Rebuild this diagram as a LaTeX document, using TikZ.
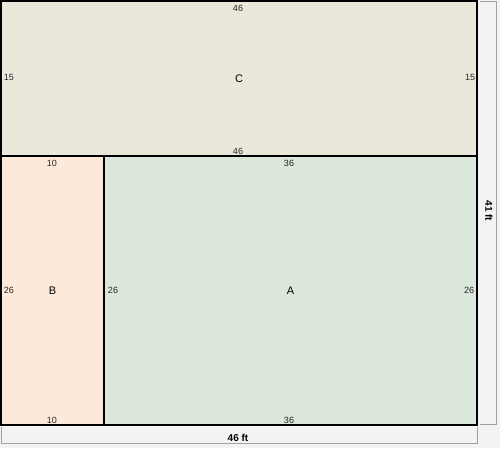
\documentclass[tikz,border=0pt]{standalone}
\usepackage{fontspec}
\setmainfont{Liberation Sans}
\definecolor{bgGray}{HTML}{F3F3F3}
\definecolor{fillC}{HTML}{E9E8DA}
\definecolor{fillB}{HTML}{FCE9D9}
\definecolor{fillA}{HTML}{DAE7DA}
\definecolor{dimGray}{HTML}{A0A0A0}
\tikzset{
	room/.style={draw,line width=1.2pt,inner sep=0pt,font=\fontsize{11}{13}\selectfont},
	len/.style={inner sep=0pt,font=\fontsize{9}{10}\selectfont,text=black!85},
	total/.style={inner sep=0pt,font=\bfseries\fontsize{10}{12}\selectfont},
	dimline/.style={draw=dimGray,line width=1pt}
}
\begin{document}
\begin{tikzpicture}[x=1pt,y=-1pt]
	\fill[bgGray] (0,0) rectangle (500,448);
	\useasboundingbox (0,0) rectangle (500,448);
	
	\node[room,fill=fillC,minimum width=476pt,minimum height=155pt] (C) at(239,78.5) {C};
	\node[room,fill=fillB,minimum width=103pt,minimum height=269pt] (B) at(52.5,290.5) {B};
	\node[room,fill=fillA,minimum width=373pt,minimum height=269pt] (A) at(290.5,290.5) {A};
	
	\node[len] (Ctop) at(238,8) {46};
	\node[len] (Cbot) at(238,151) {46};
	\node[len] (Cleft) at(9,77.5) {15};
	\node[len] (Cright) at(470,77.5) {15};
	
	\node[len] (Btop) at(52,163.5) {10};
	\node[len] (Bbot) at(52,420) {10};
	\node[len] (Bleft) at(9,290.5) {26};
	
	\node[len] (Atop) at(289,163.5) {36};
	\node[len] (Abot) at(289,420) {36};
	\node[len] (Aleft) at(113,290.5) {26};
	\node[len] (Aright) at(469,290.5) {26};
	
	\coordinate (bl) at(1,427);
	\coordinate (br) at(477,427);
	\coordinate (rt) at(480,1);
	\coordinate (rb) at(480,424);
	
	\draw[dimline] (bl)--++(0,16)-|(br);
	\draw[dimline] (rt)-|(496,424)--(rb);
	
	\node[total] (width) at(238,437.5) {46 ft};
	\node[total,rotate=-90] (height) at(489,211) {41 ft};
\end{tikzpicture}
\end{document}
